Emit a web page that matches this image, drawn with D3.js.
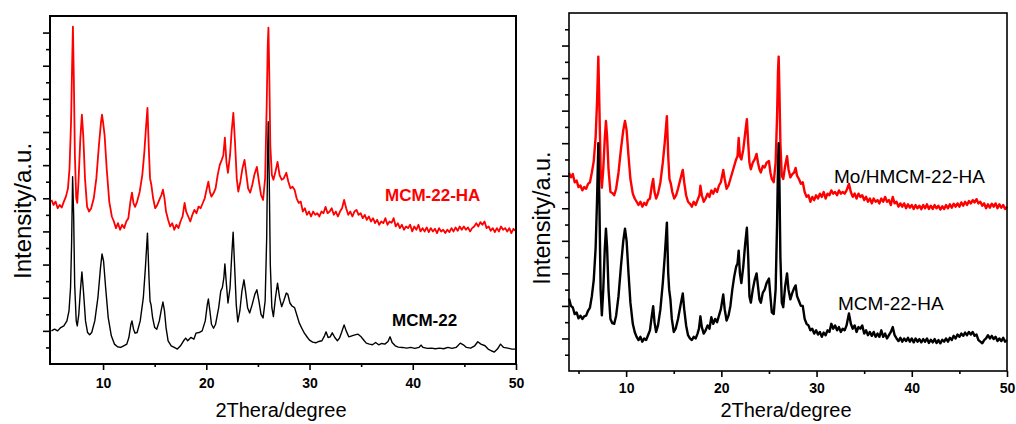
<!DOCTYPE html>
<html>
<head>
<meta charset="utf-8">
<script src="https://cdn.jsdelivr.net/npm/d3@7/dist/d3.min.js"></script>
<style>
	body { margin: 0; background: #fff; }
	svg { display: block; }
	.tick text { font-family: Arial, "Liberation Sans", sans-serif; font-weight: bold; font-size: 14px; fill: #000; }
	.domain { display: none; }
</style>
</head>
<body>
<svg width="1016" height="424"></svg>
<script>
// tick values shared by both panels
var xMajorTicks = [10, 20, 30, 40, 50];
var xMinorLeft = [15, 25, 35, 45];
var xMinorRight = [5, 15, 25, 35, 45];
var yMajorTicks = [1, 2, 3, 4, 5, 6, 7, 8, 9, 10];
var yMinorTicks = [0.5, 1.5, 2.5, 3.5, 4.5, 5.5, 6.5, 7.5, 8.5, 9.5, 10.5];

// left panel, MCM-22 (black)
var leftMcm22 = [[5,1.0],[5.3,1.05],[5.6,1.0],[5.9,1.1],[6.2,1.15],[6.5,1.3],[6.7,1.6],[6.85,2.3],[6.95,3.6],[7.05,5.65],[7.15,4.5],[7.25,2.4],[7.4,1.3],[7.5,1.15],[7.65,1.5],[7.8,2.2],[7.95,2.78],[8.1,2.2],[8.3,1.3],[8.5,0.95],[8.7,0.88],[8.9,0.95],[9.2,1.3],[9.5,2.0],[9.75,2.9],[9.9,3.32],[10.05,3.1],[10.25,2.3],[10.5,1.4],[10.8,0.85],[11.1,0.6],[11.4,0.52],[11.7,0.5],[12.0,0.55],[12.3,0.6],[12.5,0.8],[12.7,1.2],[12.8,1.3],[12.95,1.05],[13.1,0.93],[13.3,0.95],[13.6,1.3],[13.9,2.0],[14.1,2.9],[14.3,3.95],[14.45,2.6],[14.55,1.9],[14.65,1.78],[14.8,1.4],[15.0,1.1],[15.2,1.05],[15.45,1.3],[15.65,1.65],[15.8,1.87],[15.95,1.6],[16.1,1.1],[16.3,0.7],[16.6,0.55],[16.9,0.5],[17.2,0.45],[17.5,0.55],[17.8,0.7],[18.0,0.78],[18.2,0.7],[18.5,0.8],[18.8,0.75],[19.0,0.93],[19.3,0.95],[19.6,1.0],[19.9,1.3],[20.1,1.8],[20.2,1.96],[20.35,1.6],[20.5,1.2],[20.7,1.08],[20.9,1.2],[21.2,1.7],[21.4,2.2],[21.55,2.3],[21.7,2.6],[21.8,3.02],[21.95,2.4],[22.1,1.84],[22.3,2.3],[22.45,3.2],[22.6,3.98],[22.75,2.9],[22.9,1.8],[23.05,1.27],[23.25,1.6],[23.45,2.2],[23.65,2.54],[23.8,2.2],[24.0,1.7],[24.2,1.54],[24.45,1.8],[24.7,2.1],[24.9,2.24],[25.1,1.9],[25.3,1.5],[25.5,1.39],[25.7,1.9],[25.85,3.8],[25.95,6.5],[26.0,7.31],[26.1,5.5],[26.2,3.0],[26.35,1.7],[26.5,1.43],[26.7,2.0],[26.9,2.44],[27.1,2.0],[27.3,1.73],[27.5,1.9],[27.75,2.14],[27.9,2.1],[28.1,1.84],[28.3,1.75],[28.55,1.7],[28.8,1.45],[29.0,1.24],[29.3,1.05],[29.5,0.93],[29.8,0.8],[30.0,0.72],[30.3,0.66],[30.6,0.64],[30.9,0.68],[31.2,0.7],[31.45,0.85],[31.6,0.97],[31.8,0.8],[32.0,0.82],[32.2,0.94],[32.45,0.8],[32.7,0.7],[32.9,0.78],[33.1,0.95],[33.35,1.18],[33.55,1.0],[33.8,0.82],[34.1,0.85],[34.4,0.88],[34.7,0.9],[35.0,0.82],[35.3,0.7],[35.5,0.63],[35.8,0.6],[36.1,0.58],[36.4,0.65],[36.7,0.58],[37.0,0.62],[37.3,0.6],[37.6,0.68],[37.8,0.82],[38.0,0.65],[38.3,0.55],[38.6,0.51],[39.0,0.5],[39.4,0.48],[39.8,0.5],[40.2,0.47],[40.6,0.5],[40.8,0.57],[41.0,0.5],[41.4,0.47],[41.8,0.48],[42.2,0.46],[42.6,0.48],[43.0,0.46],[43.4,0.5],[43.8,0.47],[44.2,0.5],[44.6,0.63],[44.9,0.58],[45.2,0.5],[45.6,0.48],[46.0,0.55],[46.3,0.67],[46.6,0.6],[47.0,0.55],[47.3,0.45],[47.6,0.4],[47.9,0.36],[48.2,0.45],[48.5,0.6],[48.8,0.5],[49.2,0.48],[49.6,0.45],[50,0.45]];

// left panel, MCM-22-HA (red)
var leftMcm22ha = [[5.0,4.95],[5.2,4.8],[5.4,4.9],[5.6,4.7],[5.8,4.8],[6.0,4.72],[6.2,4.9],[6.4,5.05],[6.6,5.3],[6.75,5.9],[6.9,7.3],[7.0,9.0],[7.08,10.18],[7.17,8.6],[7.27,6.3],[7.4,5.0],[7.5,4.86],[7.62,5.5],[7.8,6.8],[7.95,7.52],[8.08,6.9],[8.25,5.6],[8.45,4.75],[8.65,4.6],[8.85,4.7],[9.1,5.0],[9.35,5.6],[9.6,6.6],[9.8,7.3],[9.9,7.52],[10.0,7.3],[10.15,6.9],[10.35,5.9],[10.6,4.9],[10.85,4.45],[11.05,4.3],[11.25,4.1],[11.45,4.25],[11.65,4.05],[11.85,4.2],[12.05,4.1],[12.25,4.3],[12.45,4.4],[12.65,4.9],[12.8,5.17],[12.95,4.85],[13.1,4.74],[13.3,4.9],[13.55,5.2],[13.8,5.7],[14.0,6.4],[14.15,7.1],[14.3,7.73],[14.42,6.6],[14.55,5.6],[14.68,5.4],[14.85,5.0],[15.05,4.7],[15.25,4.8],[15.45,4.95],[15.65,5.1],[15.8,5.26],[15.95,5.0],[16.1,4.6],[16.3,4.35],[16.5,4.15],[16.7,4.25],[16.9,4.05],[17.1,4.2],[17.3,4.1],[17.5,4.3],[17.7,4.45],[17.9,4.86],[18.05,4.6],[18.25,4.45],[18.45,4.3],[18.65,4.5],[18.85,4.65],[19.05,4.55],[19.25,4.75],[19.45,4.7],[19.65,4.85],[19.85,5.0],[20.05,5.3],[20.2,5.5],[20.35,5.2],[20.5,5.05],[20.7,5.15],[20.9,5.3],[21.1,5.7],[21.3,6.0],[21.5,6.16],[21.65,6.3],[21.8,6.83],[21.95,6.1],[22.1,5.77],[22.3,6.3],[22.45,7.0],[22.62,7.58],[22.78,6.7],[22.95,5.6],[23.1,5.2],[23.3,5.5],[23.5,5.9],[23.7,6.16],[23.85,5.8],[24.05,5.3],[24.25,5.17],[24.45,5.4],[24.65,5.7],[24.9,5.95],[25.1,5.5],[25.3,5.1],[25.5,4.95],[25.7,5.6],[25.85,7.8],[25.95,9.6],[26.02,10.15],[26.1,8.8],[26.2,6.6],[26.35,5.7],[26.5,5.56],[26.7,5.8],[26.9,6.1],[27.1,5.7],[27.3,5.56],[27.5,5.6],[27.75,5.77],[27.95,5.5],[28.15,5.3],[28.35,5.35],[28.55,5.26],[28.75,5.0],[28.95,4.86],[29.15,4.9],[29.35,4.6],[29.55,4.7],[29.75,4.5],[29.95,4.6],[30.15,4.45],[30.35,4.6],[30.55,4.5],[30.75,4.55],[30.95,4.45],[31.15,4.6],[31.35,4.55],[31.55,4.74],[31.75,4.55],[31.95,4.6],[32.15,4.7],[32.35,4.5],[32.55,4.6],[32.75,4.45],[32.95,4.6],[33.15,4.7],[33.35,4.95],[33.55,4.7],[33.75,4.5],[33.95,4.6],[34.15,4.45],[34.35,4.6],[34.55,4.65],[34.75,4.5],[34.95,4.55],[35.15,4.4],[35.35,4.5],[35.55,4.35],[35.75,4.45],[35.95,4.3],[36.15,4.4],[36.35,4.25],[36.55,4.35],[36.75,4.2],[36.95,4.3],[37.15,4.25],[37.35,4.4],[37.55,4.2],[37.75,4.3],[37.95,4.26],[38.15,4.4],[38.35,4.15],[38.55,4.25],[38.75,4.1],[38.95,4.2],[39.15,4.05],[39.35,4.15],[39.55,4.1],[39.75,4.2],[39.95,4.0],[40.15,4.15],[40.35,4.05],[40.55,4.2],[40.75,4.0],[40.95,4.1],[41.15,4.0],[41.35,4.12],[41.55,3.98],[41.75,4.1],[41.95,4.0],[42.15,4.08],[42.35,3.95],[42.55,4.1],[42.75,4.0],[42.95,4.05],[43.15,3.95],[43.35,4.05],[43.55,3.98],[43.75,4.1],[43.95,4.0],[44.15,4.12],[44.35,4.02],[44.55,4.15],[44.75,4.05],[44.95,4.15],[45.15,4.05],[45.35,4.12],[45.55,4.0],[45.75,4.1],[45.95,4.15],[46.15,4.25],[46.35,4.15],[46.55,4.28],[46.75,4.2],[46.95,4.3],[47.15,4.1],[47.35,4.15],[47.55,4.02],[47.75,4.1],[47.95,3.98],[48.15,4.1],[48.35,4.0],[48.55,4.15],[48.75,4.05],[48.95,4.1],[49.15,4.0],[49.35,4.1],[49.55,3.95],[49.75,4.08],[50.0,4.0]];

// right panel, Mo/HMCM-22-HA (red)
var rightMoHa = [[4.0,6.09],[4.2,5.95],[4.4,6.05],[4.6,5.8],[4.8,5.85],[5.0,5.65],[5.2,5.7],[5.4,5.55],[5.6,5.65],[5.8,5.6],[6.0,5.75],[6.2,5.8],[6.4,6.1],[6.6,6.45],[6.8,7.2],[6.95,8.3],[7.08,9.66],[7.2,8.0],[7.32,6.2],[7.45,5.63],[7.6,6.2],[7.75,7.1],[7.88,7.68],[8.0,7.2],[8.15,6.2],[8.35,5.5],[8.55,5.47],[8.75,5.4],[8.95,5.6],[9.2,6.1],[9.45,6.8],[9.7,7.4],[9.88,7.68],[10.05,7.4],[10.25,6.6],[10.45,5.9],[10.7,5.45],[10.9,5.3],[11.1,5.2],[11.3,5.1],[11.5,5.2],[11.7,5.05],[11.9,5.17],[12.1,5.1],[12.3,5.25],[12.5,5.3],[12.7,5.7],[12.84,5.9],[12.98,5.5],[13.15,5.3],[13.35,5.45],[13.6,5.8],[13.85,6.4],[14.05,7.0],[14.28,7.83],[14.42,6.6],[14.55,5.9],[14.7,5.75],[14.85,5.5],[15.05,5.3],[15.25,5.4],[15.45,5.6],[15.7,5.9],[15.95,6.18],[16.1,5.8],[16.3,5.4],[16.5,5.2],[16.7,5.14],[16.9,5.05],[17.1,5.2],[17.3,5.1],[17.5,5.25],[17.7,5.4],[17.8,5.69],[17.95,5.4],[18.15,5.2],[18.35,5.3],[18.55,5.45],[18.75,5.35],[18.95,5.55],[19.15,5.45],[19.35,5.6],[19.55,5.5],[19.75,5.7],[19.95,5.8],[20.2,6.18],[20.35,5.9],[20.55,5.6],[20.75,5.7],[20.95,5.9],[21.15,6.1],[21.35,6.3],[21.55,6.5],[21.7,6.6],[21.82,7.16],[21.95,6.6],[22.1,6.5],[22.3,6.8],[22.5,7.3],[22.68,7.74],[22.82,7.0],[22.95,6.4],[23.1,6.2],[23.3,6.4],[23.5,6.5],[23.7,6.67],[23.85,6.4],[24.0,6.2],[24.15,6.1],[24.35,6.3],[24.55,6.25],[24.75,6.4],[25.0,6.45],[25.15,6.1],[25.3,5.9],[25.5,5.8],[25.7,6.4],[25.85,7.8],[25.95,9.2],[26.02,9.66],[26.1,8.6],[26.2,7.0],[26.35,6.0],[26.5,5.9],[26.7,6.3],[26.9,6.6],[27.05,6.2],[27.25,5.95],[27.45,6.05],[27.65,6.1],[27.8,6.24],[27.95,6.0],[28.15,5.9],[28.35,5.75],[28.55,5.8],[28.75,5.5],[28.95,5.35],[29.15,5.4],[29.35,5.2],[29.55,5.35],[29.75,5.25],[29.95,5.4],[30.15,5.3],[30.35,5.45],[30.55,5.35],[30.75,5.5],[30.95,5.3],[31.15,5.45],[31.35,5.4],[31.55,5.55],[31.75,5.45],[31.95,5.5],[32.15,5.4],[32.35,5.55],[32.55,5.45],[32.75,5.5],[32.95,5.45],[33.15,5.55],[33.4,5.75],[33.6,5.5],[33.8,5.35],[34.0,5.45],[34.2,5.3],[34.4,5.45],[34.6,5.35],[34.8,5.4],[35.0,5.25],[35.2,5.35],[35.4,5.2],[35.6,5.3],[35.8,5.15],[36.0,5.3],[36.2,5.2],[36.4,5.25],[36.6,5.15],[36.8,5.3],[37.0,5.2],[37.2,5.35],[37.4,5.2],[37.6,5.25],[37.8,5.1],[38.0,5.35],[38.2,5.15],[38.4,5.2],[38.6,5.05],[38.8,5.15],[39.0,5.05],[39.2,5.15],[39.4,5.0],[39.6,5.12],[39.8,5.02],[40.0,5.1],[40.2,4.98],[40.4,5.1],[40.6,5.0],[40.8,5.08],[41.0,4.97],[41.2,5.1],[41.4,5.0],[41.6,5.12],[41.8,4.98],[42.0,5.08],[42.2,4.98],[42.4,5.1],[42.6,5.0],[42.8,5.08],[43.0,4.96],[43.2,5.06],[43.4,4.98],[43.6,5.1],[43.8,5.0],[44.0,5.12],[44.2,5.02],[44.4,5.14],[44.6,5.05],[44.8,5.15],[45.0,5.05],[45.2,5.18],[45.4,5.08],[45.6,5.2],[45.8,5.1],[46.0,5.22],[46.2,5.15],[46.4,5.25],[46.6,5.18],[46.8,5.28],[47.0,5.15],[47.2,5.2],[47.4,5.08],[47.6,5.15],[47.8,5.0],[48.0,5.12],[48.2,5.02],[48.4,5.14],[48.6,5.05],[48.8,5.15],[49.0,5.0],[49.2,5.12],[49.4,5.02],[49.6,5.1],[49.8,4.98],[50.0,5.05]];

// right panel, MCM-22-HA (black)
var rightHa = [[4.0,2.23],[4.2,2.0],[4.4,1.95],[4.6,1.75],[4.8,1.8],[5.0,1.62],[5.2,1.7],[5.4,1.6],[5.6,1.68],[5.8,1.7],[6.0,1.85],[6.2,1.95],[6.4,2.3],[6.6,2.8],[6.8,3.8],[6.95,5.3],[7.08,7.0],[7.2,5.0],[7.32,2.5],[7.45,1.71],[7.6,2.5],[7.75,3.7],[7.88,4.37],[8.0,3.8],[8.15,2.5],[8.35,1.6],[8.55,1.47],[8.75,1.45],[8.95,1.7],[9.2,2.3],[9.45,3.2],[9.7,4.0],[9.88,4.37],[10.05,4.0],[10.25,3.0],[10.45,2.1],[10.7,1.45],[10.9,1.2],[11.1,1.05],[11.3,0.95],[11.5,1.05],[11.7,0.9],[11.9,1.0],[12.1,0.95],[12.3,1.1],[12.5,1.25],[12.7,1.7],[12.84,1.99],[12.98,1.5],[13.15,1.2],[13.35,1.4],[13.6,1.9],[13.85,2.7],[14.05,3.5],[14.28,4.56],[14.42,3.0],[14.52,2.5],[14.65,2.2],[14.8,1.6],[15.0,1.2],[15.2,1.3],[15.45,1.6],[15.7,2.0],[15.95,2.38],[16.1,1.9],[16.3,1.4],[16.5,1.1],[16.7,1.0],[16.9,0.95],[17.1,1.05],[17.3,1.0],[17.5,1.15],[17.65,1.3],[17.8,1.68],[17.95,1.35],[18.15,1.15],[18.35,1.25],[18.55,1.4],[18.75,1.3],[18.95,1.65],[19.15,1.45],[19.35,1.6],[19.55,1.5],[19.75,1.7],[19.95,1.9],[20.2,2.35],[20.35,1.9],[20.55,1.55],[20.75,1.7],[20.95,2.0],[21.15,2.5],[21.35,2.9],[21.55,3.2],[21.7,3.3],[21.82,3.7],[21.95,3.0],[22.1,2.7],[22.3,3.2],[22.5,3.9],[22.68,4.4],[22.82,3.5],[22.95,2.3],[23.1,2.1],[23.3,2.5],[23.5,2.8],[23.7,3.0],[23.85,2.6],[24.0,2.2],[24.15,2.1],[24.35,2.4],[24.55,2.5],[24.75,2.7],[25.0,2.84],[25.15,2.3],[25.3,1.8],[25.5,1.75],[25.7,2.5],[25.85,4.5],[25.95,6.3],[26.02,7.0],[26.1,5.8],[26.2,3.5],[26.35,2.1],[26.5,1.96],[26.7,2.6],[26.9,3.0],[27.05,2.5],[27.25,2.2],[27.45,2.4],[27.65,2.55],[27.8,2.63],[27.95,2.3],[28.15,2.15],[28.35,2.0],[28.55,2.0],[28.75,1.6],[28.95,1.45],[29.15,1.4],[29.35,1.25],[29.55,1.3],[29.75,1.15],[29.95,1.25],[30.15,1.12],[30.35,1.2],[30.55,1.05],[30.75,1.18],[30.95,1.1],[31.15,1.25],[31.35,1.2],[31.55,1.45],[31.75,1.3],[31.95,1.4],[32.15,1.25],[32.35,1.35],[32.55,1.2],[32.75,1.3],[32.95,1.25],[33.15,1.4],[33.4,1.77],[33.6,1.45],[33.8,1.3],[34.0,1.4],[34.2,1.2],[34.4,1.35],[34.6,1.3],[34.8,1.4],[35.0,1.15],[35.2,1.25],[35.4,1.1],[35.6,1.2],[35.8,1.08],[36.0,1.2],[36.2,1.05],[36.4,1.15],[36.6,1.05],[36.8,1.25],[37.0,1.05],[37.2,1.15],[37.4,1.0],[37.6,1.1],[37.8,1.2],[38.0,1.35],[38.2,1.1],[38.4,1.0],[38.6,0.92],[38.8,1.02],[39.0,0.9],[39.2,1.0],[39.4,0.92],[39.6,1.02],[39.8,0.9],[40.0,1.0],[40.2,0.88],[40.4,1.0],[40.6,0.9],[40.8,0.98],[41.0,0.88],[41.2,0.98],[41.4,0.9],[41.6,1.0],[41.8,0.86],[42.0,0.96],[42.2,0.88],[42.4,0.98],[42.6,0.86],[42.8,0.95],[43.0,0.85],[43.2,0.96],[43.4,0.9],[43.6,1.0],[43.8,0.9],[44.0,1.02],[44.2,0.95],[44.4,1.08],[44.6,1.0],[44.8,1.12],[45.0,1.05],[45.2,1.15],[45.4,1.08],[45.6,1.18],[45.8,1.1],[46.0,1.2],[46.2,1.12],[46.4,1.2],[46.6,1.08],[46.8,1.12],[47.0,0.95],[47.2,0.9],[47.4,0.85],[47.6,0.95],[47.8,1.0],[48.0,1.1],[48.2,1.0],[48.4,1.08],[48.6,0.98],[48.8,1.05],[49.0,0.92],[49.2,1.0],[49.4,0.92],[49.6,1.02],[49.8,0.9],[50.0,0.95]];

var svg = d3.select('svg');
var fontFam = 'Arial, "Liberation Sans", sans-serif';

/**
	draws one framed XRD panel
	opts: left/right/top/bottom in px, x and y domains, minor x ticks
**/
function drawPanel(opts){
	var x = d3.scaleLinear().domain(opts.xDomain).range([opts.left, opts.right]);
	var y = d3.scaleLinear().domain(opts.yDomain).range([opts.bottom, opts.top]);
	var g = svg.append('g');

	//y ticks, outside on the left, no labels
	g.append('g')
		.attr('transform', 'translate(' + opts.left + ',0)')
		.call(d3.axisLeft(y).tickValues(yMajorTicks).tickSize(7).tickFormat(''))
		.selectAll('line').attr('stroke-width', 1.6);
	g.append('g')
		.attr('transform', 'translate(' + opts.left + ',0)')
		.call(d3.axisLeft(y).tickValues(yMinorTicks.filter(function(v){ return v < opts.yDomain[1]; })).tickSize(4).tickFormat(''))
		.selectAll('line').attr('stroke-width', 1.6);

	//x ticks
	var xMajor = g.append('g')
		.attr('transform', 'translate(0,' + opts.bottom + ')')
		.call(d3.axisBottom(x).tickValues(xMajorTicks).tickSize(6).tickPadding(opts.tickPad));
	xMajor.selectAll('line').attr('stroke-width', 1.6);
	g.append('g')
		.attr('transform', 'translate(0,' + opts.bottom + ')')
		.call(d3.axisBottom(x).tickValues(opts.xMinor).tickSize(3).tickFormat(''))
		.selectAll('line').attr('stroke-width', 1.6);

	//the traces
	var line = d3.line()
		.x(function(d){ return x(d[0]); })
		.y(function(d){ return y(d[1]); });

	opts.series.forEach(function(s){
		g.append('path')
			.datum(s.data)
			.attr('d', line)
			.attr('fill', 'none')
			.attr('stroke', s.color)
			.attr('stroke-width', s.width)
			.attr('stroke-linejoin', 'round');
	});

	//frame
	g.append('rect')
		.attr('x', opts.left)
		.attr('y', opts.top)
		.attr('width', opts.right - opts.left)
		.attr('height', opts.bottom - opts.top)
		.attr('fill', 'none')
		.attr('stroke', '#000')
		.attr('stroke-width', opts.frameWidth);

	//axis titles
	g.append('text')
		.attr('x', (opts.left + opts.right) / 2 - 2)
		.attr('y', 417)
		.attr('text-anchor', 'middle')
		.style('font-family', fontFam)
		.style('font-size', '20px')
		.text('2Thera/degree');

	g.append('text')
		.attr('transform', 'translate(' + opts.yTitleX + ',' + opts.yTitleY + ') rotate(-90)')
		.attr('text-anchor', 'middle')
		.style('font-family', fontFam)
		.style('font-size', opts.yTitleSize)
		.text('Intensity/a.u.');

	//series labels
	opts.labels.forEach(function(l){
		g.append('text')
			.attr('x', l.x)
			.attr('y', l.y)
			.attr('fill', l.color)
			.style('font-family', fontFam)
			.style('font-size', l.size)
			.style('font-weight', l.weight)
			.text(l.text);
	});
}

drawPanel({
	left: 50, right: 516, top: 16, bottom: 364,
	xDomain: [4.86, 50], yDomain: [0, 10.5],
	xMinor: xMinorLeft, tickPad: 8, frameWidth: 2,
	yTitleX: 31, yTitleY: 211, yTitleSize: '24px',
	series: [
		{data: leftMcm22ha, color: '#ff0000', width: 1.8},
		{data: leftMcm22, color: '#000', width: 1.4}
	],
	labels: [
		{text: 'MCM-22-HA', x: 385, y: 201, color: '#ff0000', size: '17px', weight: 'bold'},
		{text: 'MCM-22', x: 392, y: 326, color: '#000', size: '17px', weight: 'bold'}
	]
});

drawPanel({
	left: 569, right: 1007, top: 13, bottom: 371,
	xDomain: [4, 50], yDomain: [0, 11],
	xMinor: xMinorRight, tickPad: 6, frameWidth: 1.6,
	yTitleX: 550, yTitleY: 218, yTitleSize: '23.5px',
	series: [
		{data: rightMoHa, color: '#ff0000', width: 2.4},
		{data: rightHa, color: '#000', width: 2.4}
	],
	labels: [
		{text: 'Mo/HMCM-22-HA', x: 834, y: 183, color: '#000', size: '19px', weight: 'normal'},
		{text: 'MCM-22-HA', x: 838, y: 310, color: '#000', size: '19px', weight: 'normal'}
	]
});
</script>
</body>
</html>
